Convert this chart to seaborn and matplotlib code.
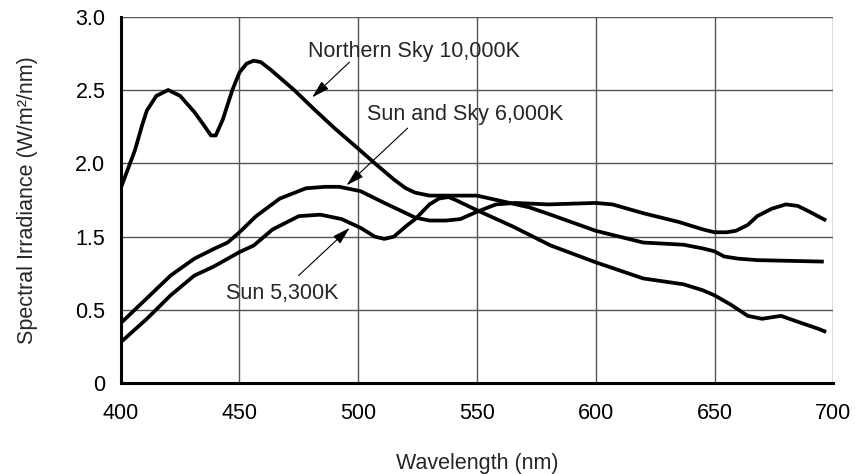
import numpy as np
import pandas as pd
import matplotlib
matplotlib.use('Agg')
import matplotlib.pyplot as plt
import seaborn as sns

###############################################################
# values (wavelength in nm, irradiance in W/m2/nm)
north_nm = [400, 403, 406, 409, 411, 415, 420, 425, 431, 435, 438, 440, 443,
            447, 450, 453, 456, 459, 463, 468, 473, 482, 490, 500, 507, 515,
            520, 524, 530, 537, 550, 561, 572, 581, 600, 620, 637, 645, 650,
            654, 660, 668, 696]
north_val = [1.83, 1.96, 2.09, 2.26, 2.36, 2.46, 2.50, 2.46, 2.35, 2.26, 2.19,
             2.19, 2.30, 2.50, 2.62, 2.68, 2.70, 2.69, 2.64, 2.57, 2.50, 2.36,
             2.24, 2.10, 2.00, 1.89, 1.83, 1.80, 1.78, 1.78, 1.78, 1.74, 1.70,
             1.65, 1.54, 1.42, 1.39, 1.34, 1.30, 1.23, 1.20, 1.18, 1.16]

sunsky_nm = [400, 411, 421, 431, 439, 445, 450, 457, 467, 478, 486, 492, 501,
             511, 524, 530, 537, 543, 550, 558, 566, 580, 600, 607, 620, 635,
             645, 650, 655, 659, 664, 668, 674, 680, 685, 690, 697]
sunsky_val = [0.41, 0.66, 0.97, 1.20, 1.33, 1.42, 1.53, 1.64, 1.76, 1.83, 1.84,
              1.84, 1.81, 1.73, 1.63, 1.61, 1.61, 1.62, 1.67, 1.72, 1.73, 1.72,
              1.73, 1.72, 1.66, 1.60, 1.55, 1.53, 1.53, 1.54, 1.58, 1.64, 1.69,
              1.72, 1.71, 1.67, 1.61]

sun_nm = [400, 411, 421, 431, 439, 450, 456, 464, 475, 484, 493, 501, 507,
          511, 515, 520, 524, 530, 534, 538, 541, 550, 565, 581, 600, 620,
          637, 645, 650, 657, 664, 670, 674, 678, 685, 694, 697]
sun_val = [0.28, 0.44, 0.70, 0.97, 1.09, 1.29, 1.38, 1.55, 1.64, 1.65, 1.62,
           1.56, 1.50, 1.47, 1.50, 1.57, 1.62, 1.72, 1.76, 1.77, 1.75, 1.68,
           1.57, 1.38, 1.15, 0.93, 0.85, 0.77, 0.70, 0.57, 0.46, 0.44, 0.45,
           0.46, 0.42, 0.37, 0.35]

x_ticks = [400, 450, 500, 550, 600, 650, 700]
y_tick_labels = ['0', '0.5', '1.5', '2.0', '2.5', '3.0']
y_tick_values = [0, 0.5, 1.5, 2.0, 2.5, 3.0]

###############################################################
def forward(v):
    # the original axis spaces its labels evenly (1.0 is skipped)
    return np.interp(v, y_tick_values, np.arange(len(y_tick_values)))

def inverse(p):
    return np.interp(p, np.arange(len(y_tick_values)), y_tick_values)

sns.set_style('white')
plt.rcParams['font.family'] = ['Liberation Sans', 'DejaVu Sans']
plt.rcParams['font.size'] = 15.5

fig = plt.figure(figsize=(8.55, 4.74), dpi=100)
ax = fig.add_axes([0.1412, 0.1913, 0.8334, 0.7735])

for xs, ys in [(north_nm, north_val), (sunsky_nm, sunsky_val), (sun_nm, sun_val)]:
    df = pd.DataFrame({'nm': xs, 'val': ys})
    sns.lineplot(data=df, x='nm', y='val', color='black', linewidth=2.7,
                 estimator=None, sort=False, ax=ax, zorder=3,
                 solid_joinstyle='round', solid_capstyle='butt')

ax.set_yscale('function', functions=(forward, inverse))
ax.set_xlim(400, 700)
ax.set_ylim(0, 3.0)
ax.set_xticks(x_ticks)
ax.set_xticklabels([str(t) for t in x_ticks])
ax.set_yticks(y_tick_values)
ax.set_yticklabels(y_tick_labels)
ax.yaxis.set_minor_locator(matplotlib.ticker.NullLocator())

ax.grid(True, color='#555555', linewidth=1.0)
ax.set_axisbelow(True)
for s in ['top', 'right']:
    ax.spines[s].set_visible(False)
for s in ['left', 'bottom']:
    ax.spines[s].set_color('black')
    ax.spines[s].set_linewidth(2.2)
ax.tick_params(axis='both', direction='out', length=7, width=1.0,
               color='#333333', labelsize=15.5, labelcolor='black')
ax.tick_params(axis='x', pad=7)
ax.tick_params(axis='y', pad=4)

ax.set_xlabel('Wavelength (nm)', fontsize=15.5, labelpad=21)
ax.set_ylabel('Spectral Irradiance (W/m²/nm)', fontsize=15.5)
ax.yaxis.set_label_coords(-0.116, 0.5)

arrow = dict(arrowstyle='-|>,head_length=0.7,head_width=0.2', color='black',
             linewidth=0.8, shrinkA=0, shrinkB=0)
ax.annotate('', xy=(480.6, 2.45), xytext=(496.3, 2.69), arrowprops=arrow)
ax.text(479, 2.765, 'Northern Sky 10,000K', ha='left', va='center', fontsize=15.5)
ax.annotate('', xy=(495.1, 1.85), xytext=(520.8, 2.24), arrowprops=arrow)
ax.text(503.7, 2.33, 'Sun and Sky 6,000K', ha='left', va='center', fontsize=15.5)
ax.annotate('', xy=(496.4, 1.56), xytext=(474.9, 0.97), arrowprops=arrow)
ax.text(444.5, 0.73, 'Sun 5,300K', ha='left', va='center', fontsize=15.5)

plt.savefig('out.png', dpi=100)
